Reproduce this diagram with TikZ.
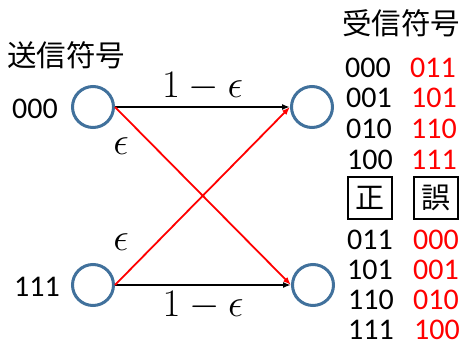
\RequirePackage{fix-cm}
\documentclass[tikz,border=0pt]{standalone}
\usepackage[no-math]{fontspec}
\setmainfont{Carlito}
\newfontfamily\jpfont{Noto Sans CJK JP}
\usetikzlibrary{positioning,arrows.meta}
\definecolor{codeblue}{RGB}{65,113,156}
\definecolor{errred}{RGB}{255,0,0}

\begin{document}
\begin{tikzpicture}[
  x=1pt,y=-1pt,
  font=\fontsize{30}{32}\selectfont,
  code/.style={circle,draw=codeblue,line width=3pt,minimum size=41pt,inner sep=0pt},
  bits/.style={inner sep=1pt},
  errbits/.style={inner sep=1pt,text=errred},
  head/.style={inner sep=1pt,font=\jpfont\fontsize{29.5}{31}\selectfont},
  tag/.style={draw,line width=2pt,minimum width=44pt,minimum height=42pt,inner sep=0pt,font=\jpfont\fontsize{29}{31}\selectfont},
  prob/.style={inner sep=0pt,font=\fontsize{39}{40}\selectfont},
  arr/.style={-{Latex[length=8pt,width=6pt]},line width=1.8pt},
  arrx/.style={-{Latex[length=8pt,width=6pt]},line width=1.8pt,errred}
]
\useasboundingbox (0,0) rectangle (463,343);

% sent and received codewords
\node[code] (s0) at (93,107) {};
\node[code] (s1) at (93,285) {};
\node[code] (r0) at (312,107) {};
\node[code] (r1) at (313,285) {};

\node[head] (sendhead) at (66,55) {送信符号};
\node[head] (recvhead) at (401,23) {受信符号};
\node[bits] (s0lab) at (35,109) {000};
\node[bits] (s1lab) at (37,287) {111};

% channel
\draw[arr] (s0.east) -- node[prob,above=5pt]{$1-\epsilon$} (r0.west);
\draw[arr] (s1.east) -- node[prob,below=5pt]{$1-\epsilon$} (r1.west);
\draw[arrx] (s0.east) -- (r1.west);
\draw[arrx] (s1.east) -- (r0.west);
\node[prob] (eps0) at (121,146) {$\epsilon$};
\node[prob] (eps1) at (121,242) {$\epsilon$};

% received words decoded to 000
\node[bits] (c00) at (368,68) {000};
\node[bits] (c01) at (369,98) {001};
\node[bits] (c02) at (369,129) {010};
\node[bits] (c03) at (370,160) {100};
\node[errbits] (e00) at (433,68) {011};
\node[errbits] (e01) at (434,98) {101};
\node[errbits] (e02) at (434,129) {110};
\node[errbits] (e03) at (434,160) {111};

\node[tag] (ok) at (370,198) {正};
\node[tag] (ng) at (436,198) {誤};

% received words decoded to 111
\node[bits] (c10) at (370,240) {011};
\node[bits] (c11) at (370,270) {101};
\node[bits] (c12) at (371,300) {110};
\node[bits] (c13) at (371,330) {111};
\node[errbits] (e10) at (436,240) {000};
\node[errbits] (e11) at (436,270) {001};
\node[errbits] (e12) at (436,300) {010};
\node[errbits] (e13) at (437,330) {100};
\end{tikzpicture}
\end{document}
